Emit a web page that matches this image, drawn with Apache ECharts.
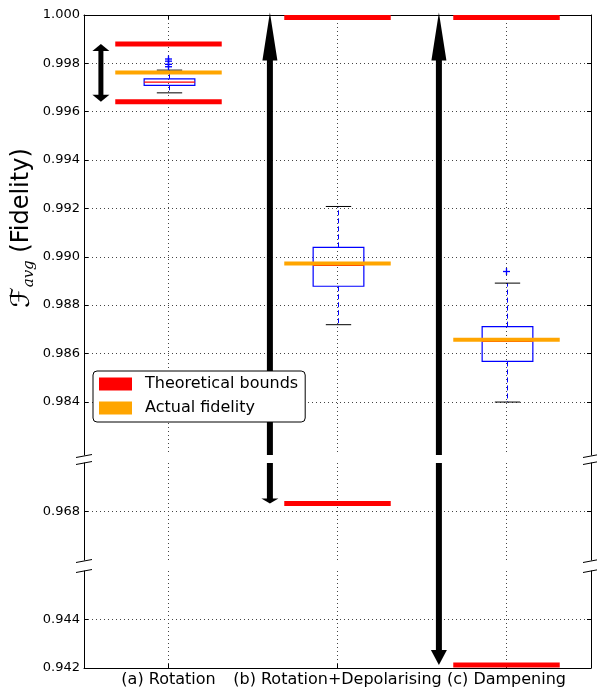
<!DOCTYPE html>
<html>
<head>
<meta charset="utf-8">
<script src="https://cdn.jsdelivr.net/npm/echarts@6/dist/echarts.min.js"></script>
<style>
  html, body { margin: 0; padding: 0; background: #fff; }
  #main { width: 597px; height: 688px; }
</style>
</head>
<body>
<div id="main"></div>
<script>
// ---- data ----
const categories = ['(a) Rotation', '(b) Rotation+Depolarising', '(c) Dampening'];
const boundLow = [0.99641, 0.96833, 0.94212];
const boundHigh = [0.99880, 0.99990, 0.99990];
const actualFidelity = [0.99762, 0.98972, 0.98657];
// [lower whisker, q1, median, q3, upper whisker]
const boxStats = [
  [0.99678, 0.99709, 0.99722, 0.99736, 0.99772],
  [0.98719, 0.98878, 0.98964, 0.99039, 0.99208],
  [0.98399, 0.98567, 0.98650, 0.98711, 0.98891]
];
// [category index, value]
const outliers = [[0, 0.99786], [0, 0.99796], [0, 0.99809], [0, 0.99818], [2, 0.98939]];
const arrowLow = [0.99641, 0.96833, 0.94212];
const arrowHigh = [0.99880, 1.0001, 1.0001];
// broken y axis: one range per segment, top to bottom
const yRanges = [[0.9818, 1.0], [0.966, 0.970], [0.942, 0.946]];
const yTicks = [
  [0.984, 0.986, 0.988, 0.990, 0.992, 0.994, 0.996, 0.998, 1.000],
  [0.968],
  [0.942, 0.944]
];
const legendNames = ['Theoretical bounds', 'Actual fidelity'];

// ---- styles / layout ----
const FONT = 'DejaVu Sans';
const RED = '#ff0000', ORANGE = '#ffa500', BLUE = '#0000ff';
const GRIDLINE = { color: '#444', width: 1, type: [1, 3] };
const grids = [
  { left: 84, right: 6, top: 15, height: 440 },
  { left: 84, right: 6, top: 463, height: 97 },
  { left: 84, right: 6, top: 571, height: 97 }
];
// arrow shaft width, [head length, head width] at top and bottom
const ARROW = [
  { shaft: 5, top: [7, 17], bot: [7, 17] },
  { shaft: 6, top: [48, 15], bot: [5, 17] },
  { shaft: 6, top: [48, 15], bot: [15, 16] }
];
const bridge = grids[2].top - (grids[1].top + grids[1].height);

// every category sits on an odd slot so the grid lines can run through its centre
const slots = [''].concat(...categories.map(c => [c, '']));
const onCat = (i) => i % 2 === 1;
const slotOf = (i) => 2 * i + 1;
const slotWidth = (api) => api.coord([1, 0])[0] - api.coord([0, 0])[0];

const hBar = (thick, color) => (params, api) => {
  const p = api.coord([api.value(0), api.value(1)]);
  const w = slotWidth(api) * 0.63;
  return {
    type: 'rect',
    shape: { x: p[0] - w, y: p[1] - thick / 2, width: 2 * w, height: thick },
    style: { fill: color }
  };
};

const renderBox = (params, api) => {
  const x = api.value(0);
  const c = (d) => api.coord([x, api.value(d)]);
  const sw = slotWidth(api);
  const bw = sw * 0.30, cw = sw * 0.15;
  const lo = c(1), q1 = c(2), med = c(3), q3 = c(4), hi = c(5);
  const cx = Math.round(med[0]) + 0.5;
  const dashed = { stroke: BLUE, lineWidth: 1, lineDash: [5, 3] };
  return {
    type: 'group',
    children: [
      { type: 'line', shape: { x1: cx, y1: q3[1], x2: cx, y2: hi[1] }, style: dashed },
      { type: 'line', shape: { x1: cx, y1: q1[1], x2: cx, y2: lo[1] }, style: dashed },
      { type: 'line', shape: { x1: cx - cw, y1: hi[1], x2: cx + cw, y2: hi[1] }, style: { stroke: '#000', lineWidth: 1 } },
      { type: 'line', shape: { x1: cx - cw, y1: lo[1], x2: cx + cw, y2: lo[1] }, style: { stroke: '#000', lineWidth: 1 } },
      { type: 'rect', shape: { x: cx - bw, y: q3[1], width: 2 * bw, height: q1[1] - q3[1] },
        style: { fill: 'none', stroke: BLUE, lineWidth: 1.2 } },
      { type: 'line', shape: { x1: cx - bw, y1: med[1], x2: cx + bw, y2: med[1] }, style: { stroke: RED, lineWidth: 1.2 } }
    ]
  };
};

const renderPlus = (params, api) => {
  const p = api.coord([api.value(0), api.value(1)]);
  const r = 3.5;
  return {
    type: 'group',
    children: [
      { type: 'line', shape: { x1: p[0] - r, y1: p[1], x2: p[0] + r, y2: p[1] }, style: { stroke: BLUE, lineWidth: 1.3 } },
      { type: 'line', shape: { x1: p[0], y1: p[1] - r, x2: p[0], y2: p[1] + r }, style: { stroke: BLUE, lineWidth: 1.3 } }
    ]
  };
};

const renderArrow = (k) => (params, api) => {
  const slot = api.value(0);
  const vLo = api.value(1), vHi = api.value(2);
  const st = ARROW[api.value(3)];
  const [ymin, ymax] = yRanges[k];
  const x = api.coord([slot, ymin])[0] - 0.8 * slotWidth(api);
  const yPx = (v) => api.coord([slot, v])[1];
  const hasTop = vHi >= ymin && vHi <= ymax + 0.0005;
  const hasBot = vLo >= ymin && vLo <= ymax;
  const yTop = hasTop ? yPx(vHi) + st.top[0] - 1 : yPx(ymax) - (k === 2 ? bridge : 0);
  const yBot = hasBot ? yPx(vLo) - st.bot[0] + 1 : yPx(ymin);
  const children = [
    { type: 'rect', shape: { x: x - st.shaft / 2, y: yTop, width: st.shaft, height: yBot - yTop }, style: { fill: '#000' } }
  ];
  if (hasTop) {
    const t = yPx(vHi);
    children.push({ type: 'polygon', shape: { points: [[x, t], [x - st.top[1] / 2, t + st.top[0]], [x + st.top[1] / 2, t + st.top[0]]] }, style: { fill: '#000' } });
  }
  if (hasBot) {
    const b = yPx(vLo);
    children.push({ type: 'polygon', shape: { points: [[x, b], [x - st.bot[1] / 2, b - st.bot[0]], [x + st.bot[1] / 2, b - st.bot[0]]] }, style: { fill: '#000' } });
  }
  return { type: 'group', children };
};

const series = [];
grids.forEach((g, k) => {
  const [lo, hi] = yRanges[k];
  const inRange = (v) => v >= lo && v <= hi + 0.0005;
  const bounds = [], actual = [], boxes = [], pluses = [], arrows = [];
  categories.forEach((c, i) => {
    [boundLow[i], boundHigh[i]].forEach(v => { if (inRange(v)) bounds.push([slotOf(i), v]); });
    if (inRange(actualFidelity[i])) actual.push([slotOf(i), actualFidelity[i]]);
    if (inRange(boxStats[i][0]) && inRange(boxStats[i][4])) boxes.push([slotOf(i)].concat(boxStats[i]));
    if (arrowHigh[i] >= lo && arrowLow[i] <= hi) arrows.push([slotOf(i), arrowLow[i], arrowHigh[i], i]);
  });
  outliers.forEach(([ci, v]) => { if (inRange(v)) pluses.push([slotOf(ci), v]); });
  const base = { type: 'custom', xAxisIndex: k, yAxisIndex: 2 * k, silent: true };
  series.push(Object.assign({}, base, { name: 'box', z: 3, data: boxes, renderItem: renderBox }));
  series.push(Object.assign({}, base, { name: 'outliers', z: 3, data: pluses, renderItem: renderPlus }));
  series.push(Object.assign({}, base, { name: 'arrows', z: 3, data: arrows, renderItem: renderArrow(k) }));
  series.push(Object.assign({}, base, { name: legendNames[0], z: 4, itemStyle: { color: RED }, data: bounds, renderItem: hBar(5, RED) }));
  series.push(Object.assign({}, base, { name: legendNames[1], z: 5, itemStyle: { color: ORANGE }, data: actual, renderItem: hBar(4, ORANGE) }));
});

// "//" marks where the y axis is broken
const breakMarks = [];
for (let k = 0; k < grids.length - 1; k++) {
  const ys = [grids[k].top + grids[k].height + 1, grids[k + 1].top];
  [grids[k].left, 597 - grids[k].right].forEach(x => {
    ys.forEach(y => breakMarks.push({
      type: 'line', z: 20,
      shape: { x1: x - 8, y1: y + 1.5, x2: x + 8, y2: y - 1.5 },
      style: { stroke: '#000', lineWidth: 1 }
    }));
  });
}

const option = {
  animation: false,
  backgroundColor: '#fff',
  grid: grids,
  xAxis: grids.map((g, k) => ({
    type: 'category',
    gridIndex: k,
    data: slots,
    boundaryGap: false,
    position: k === 0 ? 'top' : 'bottom',
    axisLine: { show: k !== 1, onZero: false, lineStyle: { color: '#000', width: 1 } },
    axisTick: { show: k !== 1, inside: true, length: 4, interval: onCat, lineStyle: { color: '#000' } },
    axisLabel: { show: k === 2, interval: onCat, margin: 4, fontSize: 16, color: '#000', fontFamily: FONT },
    splitLine: { show: true, interval: onCat, lineStyle: GRIDLINE }
  })),
  yAxis: [].concat(...grids.map((g, k) => [
    {
      type: 'value', gridIndex: k, position: 'left',
      min: yRanges[k][0], max: yRanges[k][1],
      axisLine: { show: true, lineStyle: { color: '#000', width: 1 } },
      axisTick: { show: true, inside: true, length: 4, customValues: yTicks[k], lineStyle: { color: '#000' } },
      axisLabel: { customValues: yTicks[k], formatter: v => v.toFixed(3), fontSize: 13, margin: 4, color: '#000', fontFamily: FONT },
      splitLine: { show: true, lineStyle: GRIDLINE }
    },
    {
      type: 'value', gridIndex: k, position: 'right',
      min: yRanges[k][0], max: yRanges[k][1],
      axisLine: { show: true, lineStyle: { color: '#000', width: 1 } },
      axisTick: { show: true, inside: true, length: 4, customValues: yTicks[k], lineStyle: { color: '#000' } },
      axisLabel: { show: false },
      splitLine: { show: false }
    }
  ])),
  legend: {
    data: legendNames,
    orient: 'vertical',
    left: 93,
    top: 371,
    icon: 'rect',
    itemWidth: 33,
    itemHeight: 13,
    itemGap: 8,
    padding: [5, 7, 6, 6],
    backgroundColor: '#fff',
    borderColor: '#000',
    borderWidth: 1,
    borderRadius: 4,
    z: 10,
    selectedMode: false,
    textStyle: { fontSize: 16, color: '#000', fontFamily: FONT, padding: [0, 0, 0, 8] }
  },
  graphic: [
    {
      type: 'text', x: 22, y: 228, rotation: Math.PI / 2, z: 20,
      style: {
        text: '{f|ℱ}{s|avg} (Fidelity)',
        fontSize: 24, fontFamily: FONT, fill: '#000',
        align: 'center', verticalAlign: 'middle',
        rich: {
          f: { fontSize: 26, fontFamily: FONT, fill: '#000', lineHeight: 30 },
          s: { fontSize: 15, fontStyle: 'italic', fontFamily: 'DejaVu Serif', fill: '#000', lineHeight: 14, verticalAlign: 'bottom' }
        }
      }
    }
  ].concat(breakMarks),
  series: series
};

const chart = echarts.init(document.getElementById('main'));
chart.setOption(option);
</script>
</body>
</html>
